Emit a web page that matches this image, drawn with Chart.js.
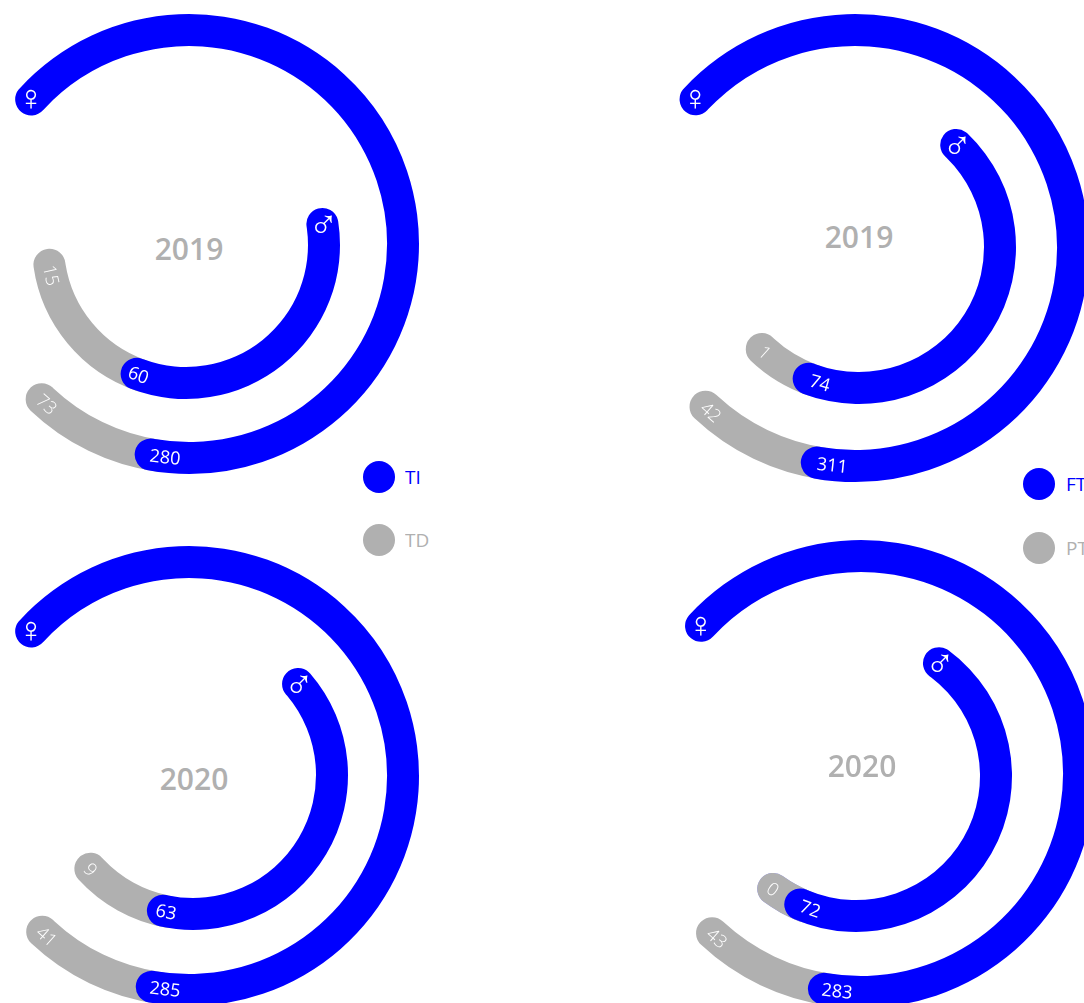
<!DOCTYPE html>
<html>
<head>
<meta charset="utf-8">
<script src="https://cdn.jsdelivr.net/npm/chart.js@4"></script>
<style>
html,body{margin:0;padding:0;background:#fff;width:1084px;height:1003px;overflow:hidden;position:relative;font-family:"Open Sans",sans-serif}
.ring{position:absolute}
.year{position:absolute;transform:translate(-50%,-50%);font-weight:600;font-size:30px;line-height:1;color:#b0b0b0;white-space:nowrap;opacity:.999}
.dot{position:absolute;width:32px;height:32px;border-radius:50%;transform:translate(-50%,-50%)}
.lg{position:absolute;transform:translateY(-50%);font-size:19px;line-height:1;white-space:nowrap;opacity:.999}
</style>
</head>
<body>
<script>
// Printed values
const years = ["2019", "2019", "2020", "2020"];
const femaleMain = [280, 311, 285, 283];
const femalePart = [73, 42, 41, 43];
const maleMain = [60, 74, 63, 72];
const malePart = [15, 1, 9, 0];

// Arc lengths in degrees (the arcs are not proportional to the printed values)
const femaleMainSweep = [246.4, 245.5, 246.1, 245.4];
const femalePartSweep = [33.2, 33.2, 33.3, 33.3];
const maleMainSweep = [133, 170.3, 156.6, 180.2];
const malePartSweep = [60.8, 22.7, 35.1, 12.8];

// Legend
const legendMain = ["TI", "FT"];
const legendPart = ["TD", "PT"];

// Layout
const BLUE = "#0000ff", GRAY = "#b0b0b0", FRINGE = "rgba(0,0,255,0.45)", WIDTH = 32, PAD = 2;
const femaleRing = [
  {cx:189, cy:244, r:230, start:308.2, sym:312.5, mainAt:186.4, partAt:221.6},
  {cx:855, cy:248, r:234, start:308.8, sym:313.0, mainAt:186.0, partAt:221.3},
  {cx:189, cy:776, r:230, start:308.2, sym:312.5, mainAt:186.4, partAt:221.6},
  {cx:861, cy:774, r:234, start:308.6, sym:312.8, mainAt:186.3, partAt:221.3}
];
const maleRing = [
  {cx:186, cy:245, r:154, start:74.6, sym:81.3, mainAt:200.1, partAt:257.3},
  {cx:859, cy:247, r:157, start:37.1, sym:43.6, mainAt:196.0, partAt:221.8},
  {cx:193, cy:775, r:155, start:42.5, sym:49.1, mainAt:191.1, partAt:227.3},
  {cx:856, cy:776, r:156, start:29.8, sym:36.3, mainAt:199.0, partAt:216.3}
];
const yearPos = [[189,249],[859,236.5],[194,779],[862,765.5]];
const legendPos = [
  {x:379, ys:[477,540], tx:405},
  {x:1039, ys:[484,548], tx:1066}
];
const symbolStyle = {
  "\u2640": {size:36, dx:0, dy:1},
  "\u2642": {size:40, dx:1, dy:3}
};

const ringText = {
  id: "ringText",
  afterDatasetsDraw(chart, args, o) {
    const arc = chart.getDatasetMeta(0).data[0];
    const ctx = chart.ctx;
    const mid = (arc.outerRadius + arc.innerRadius) / 2;
    ctx.save();
    ctx.fillStyle = "#fff";
    ctx.textAlign = "center";
    ctx.textBaseline = "middle";
    const at = d => {
      const a = d * Math.PI / 180;
      return [arc.x + mid * Math.sin(a), arc.y - mid * Math.cos(a)];
    };
    if (o.label !== undefined) {
      const [x, y] = at(o.labelAt);
      ctx.save();
      ctx.translate(x, y);
      ctx.rotate((o.labelAt - 180) * Math.PI / 180);
      ctx.font = (o.thin ? '300' : '400') + ' 18px "Open Sans"';
      ctx.fillText(String(o.label), 0, 1.5);
      ctx.restore();
    }
    if (o.symbol) {
      const [x, y] = at(o.symbolAt);
      const s = symbolStyle[o.symbol];
      ctx.font = s.size + 'px "Liberation Sans"';
      ctx.fillText(o.symbol, x + s.dx, y + s.dy);
    }
    ctx.restore();
  }
};

function arcChart(ring, color, rotation, sweep, text, z) {
  const side = 2 * (ring.r + PAD);
  const box = document.createElement("canvas");
  box.className = "ring";
  box.width = side; box.height = side;
  box.style.cssText = `left:${ring.cx - side / 2}px;top:${ring.cy - side / 2}px;width:${side}px;height:${side}px;z-index:${z}`;
  document.body.appendChild(box);
  new Chart(box, {
    type: "doughnut",
    data: { labels: ["arc", "rest"], datasets: [{
      data: [sweep, 360 - sweep],
      backgroundColor: [color, "rgba(0,0,0,0)"],
      borderWidth: 0, borderRadius: [WIDTH / 2, 0], hoverOffset: 0
    }]},
    options: {
      responsive: false, animation: false, events: [],
      radius: ring.r, cutout: (ring.r - WIDTH) * (ring.r + PAD) / ring.r, rotation: rotation,
      layout: { padding: 0 },
      plugins: { legend: {display:false}, tooltip: {enabled:false}, ringText: text }
    },
    plugins: [ringText]
  });
}

function drawRing(ring, mainVal, partVal, mainSweep, partSweep, symbol) {
  const mainEnd = ring.start + mainSweep;
  const back = 2 * (WIDTH / 2) / (ring.r - WIDTH / 2) * 180 / Math.PI + 2;
  // A part of 0 leaves only a faint blue fringe beneath the gray stub
  if (partVal === 0) arcChart(ring, FRINGE, mainEnd - back, partSweep + back, {}, 0);
  arcChart(ring, GRAY, mainEnd - back, partSweep + back,
    {label: partVal, labelAt: ring.partAt, thin: true}, 1);
  arcChart(ring, BLUE, ring.start, mainSweep,
    {label: mainVal, labelAt: ring.mainAt, symbol: symbol, symbolAt: ring.sym}, 2);
}

years.forEach((y, i) => {
  drawRing(femaleRing[i], femaleMain[i], femalePart[i], femaleMainSweep[i], femalePartSweep[i], "\u2640");
  drawRing(maleRing[i], maleMain[i], malePart[i], maleMainSweep[i], malePartSweep[i], "\u2642");
  const d = document.createElement("div");
  d.className = "year"; d.textContent = y;
  d.style.left = yearPos[i][0] + "px"; d.style.top = yearPos[i][1] + "px";
  document.body.appendChild(d);
});

legendPos.forEach((p, i) => {
  [[legendMain[i], BLUE], [legendPart[i], GRAY]].forEach(([t, c], j) => {
    const dot = document.createElement("div");
    dot.className = "dot"; dot.style.background = c;
    dot.style.left = p.x + "px"; dot.style.top = p.ys[j] + "px";
    document.body.appendChild(dot);
    const l = document.createElement("div");
    l.className = "lg"; l.textContent = t; l.style.color = c;
    l.style.left = p.tx + "px"; l.style.top = p.ys[j] + "px";
    document.body.appendChild(l);
  });
});
</script>
</body>
</html>
